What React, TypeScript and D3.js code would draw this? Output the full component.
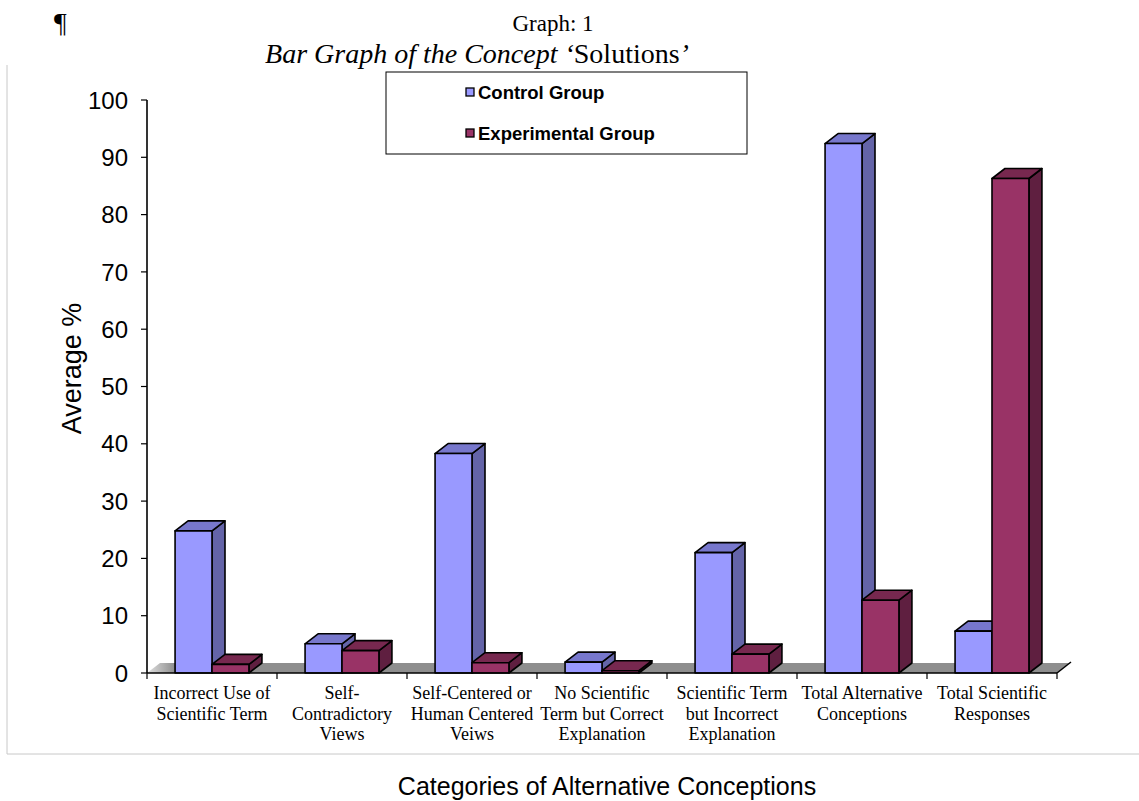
import { useMemo } from "react";
import * as d3 from "d3";

const categories = [
  ["Incorrect Use of", "Scientific Term"],
  ["Self-", "Contradictory", "Views"],
  ["Self-Centered or", "Human Centered", "Veiws"],
  ["No Scientific", "Term but Correct", "Explanation"],
  ["Scientific Term", "but Incorrect", "Explanation"],
  ["Total Alternative", "Conceptions"],
  ["Total Scientific", "Responses"],
];
const seriesNames = ["Control Group", "Experimental Group"];
const controlValues = [24.8, 5.1, 38.3, 1.9, 21.0, 92.4, 7.3];
const experimentalValues = [1.5, 3.9, 1.8, 0.4, 3.3, 12.7, 86.3];
const yTicks = [0, 10, 20, 30, 40, 50, 60, 70, 80, 90, 100];

const colors = {
  "Control Group": { front: "#9999ff", top: "#7777cc", side: "#6464a8" },
  "Experimental Group": { front: "#993366", top: "#77284f", side: "#5f1f40" },
};

const W = 1139;
const H = 801;
const DX = 13;
const DY = -10;
const SANS = "'Liberation Sans', Arial, sans-serif";
const SERIF = "'Liberation Serif', 'Times New Roman', serif";

export default function App() {
  const keys = categories.map((c) => c.join(" "));
  const x = useMemo(
    () => d3.scaleBand<string>().domain(keys).range([147, 1057]).padding(0),
    [],
  );
  const inner = d3
    .scaleBand<string>()
    .domain(seriesNames)
    .range([0, x.bandwidth()])
    .paddingInner(0)
    .paddingOuter(0.76);
  const y = d3.scaleLinear().domain([0, 100]).range([673, 100]);

  const bars: { key: string; series: string; v: number }[] = [];
  keys.forEach((k, i) => {
    bars.push({ key: k, series: seriesNames[0], v: controlValues[i] });
    bars.push({ key: k, series: seriesNames[1], v: experimentalValues[i] });
  });

  const x0 = x.range()[0];
  const x1 = x.range()[1];
  const y0 = y(0);

  return (
    <svg
      width={W}
      height={H}
      style={{ position: "absolute", left: 0, top: 0, background: "#fff" }}
    >
      <defs>
        <linearGradient id="floorFade" x1="0" x2="1" y1="0" y2="0">
          <stop offset="0" stopColor="#e0e0e0" />
          <stop offset="0.03" stopColor="#8e8e8e" />
          <stop offset="1" stopColor="#8e8e8e" />
        </linearGradient>
      </defs>

      {/* page text */}
      <text x={54} y={32} fontFamily={SERIF} fontSize={28}>¶</text>
      <text x={553} y={31} fontFamily={SERIF} fontSize={23} textAnchor="middle">
        Graph: 1
      </text>
      <text x={477} y={63} fontFamily={SERIF} fontSize={28} textAnchor="middle">
        <tspan fontStyle="italic">Bar Graph of the Concept ‘</tspan>
        <tspan>Solutions</tspan>
        <tspan fontStyle="italic">’</tspan>
      </text>

      {/* frame */}
      <line x1={7} x2={7} y1={65} y2={754} stroke="#c8c8c8" />
      <line x1={7} x2={W} y1={754} y2={754} stroke="#c8c8c8" />

      {/* floor */}
      <polygon
        points={`${x0},${y0} ${x1},${y0} ${x1 + DX},${y0 + DY} ${x0 + DX},${y0 + DY}`}
        fill="url(#floorFade)"
      />
      <line x1={x1} y1={y0} x2={x1 + DX + 1} y2={y0 + DY - 1} stroke="#000" strokeWidth={1.5} />

      {/* bars */}
      {bars.map((b, i) => {
        const c = colors[b.series as keyof typeof colors];
        const bx = x(b.key)! + inner(b.series)!;
        const bw = inner.bandwidth();
        const top = y(b.v);
        return (
          <g key={i} stroke="#000" strokeWidth={1.6} strokeLinejoin="round">
            <polygon
              points={`${bx + bw},${y0} ${bx + bw + DX},${y0 + DY} ${bx + bw + DX},${top + DY} ${bx + bw},${top}`}
              fill={c.side}
            />
            <polygon
              points={`${bx},${top} ${bx + bw},${top} ${bx + bw + DX},${top + DY} ${bx + DX},${top + DY}`}
              fill={c.top}
            />
            <rect x={bx} y={top} width={bw} height={y0 - top} fill={c.front} />
          </g>
        );
      })}

      {/* y axis */}
      <line x1={147} x2={147} y1={y(100)} y2={y0} stroke="#000" strokeWidth={1.6} />
      {yTicks.map((t) => (
        <g key={t}>
          <line x1={141} x2={147} y1={y(t)} y2={y(t)} stroke="#000" strokeWidth={1.2} />
          <text
            x={128}
            y={y(t)}
            dy="0.36em"
            textAnchor="end"
            fontFamily={SANS}
            fontSize={24}
          >
            {t}
          </text>
        </g>
      ))}
      <text
        transform={`translate(81,${(y(100) + y0) / 2 - 18}) rotate(-90)`}
        textAnchor="middle"
        fontFamily={SANS}
        fontSize={27}
      >
        Average %
      </text>

      {/* x axis */}
      <line x1={x0} x2={x1} y1={y0} y2={y0} stroke="#000" strokeWidth={1.6} />
      {keys.concat([""]).map((k, i) => {
        const px = x0 + i * x.step();
        return <line key={i} x1={px} x2={px} y1={y0} y2={y0 + 6} stroke="#000" strokeWidth={1.2} />;
      })}
      {categories.map((lines, i) => (
        <text
          key={i}
          x={x(keys[i])! + x.bandwidth() / 2}
          y={699}
          textAnchor="middle"
          fontFamily={SERIF}
          fontSize={18}
        >
          {lines.map((l, j) => (
            <tspan key={j} x={x(keys[i])! + x.bandwidth() / 2} dy={j === 0 ? 0 : 20.5}>
              {l}
            </tspan>
          ))}
        </text>
      ))}
      <text x={607} y={795} textAnchor="middle" fontFamily={SANS} fontSize={25}>
        Categories of Alternative  Conceptions
      </text>

      {/* legend */}
      <rect x={386} y={72} width={361} height={82} fill="#fff" stroke="#000" strokeWidth={1} />
      {seriesNames.map((s, i) => (
        <g key={s} transform={`translate(466,${92 + i * 41})`}>
          <rect x={0} y={-4} width={8} height={8} fill={colors[s as keyof typeof colors].front} stroke="#000" strokeWidth={1.3} />
          <text x={12} y={0} dy="0.36em" fontFamily={SANS} fontSize={18.5} fontWeight="bold">
            {s}
          </text>
        </g>
      ))}
    </svg>
  );
}
